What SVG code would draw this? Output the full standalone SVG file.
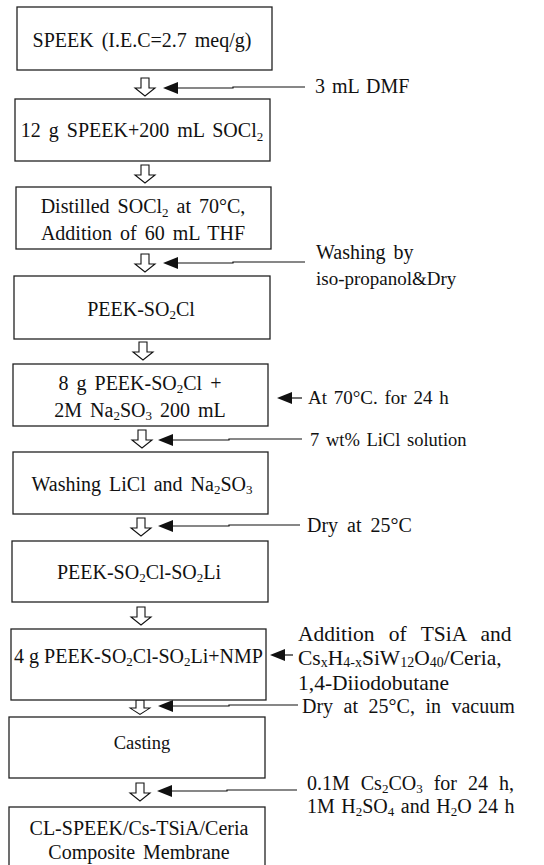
<svg xmlns="http://www.w3.org/2000/svg" xmlns:xlink="http://www.w3.org/1999/xlink" width="544" height="865" viewBox="0 0 544 865">
<style>
  .box { fill: #ffffff; stroke: #222222; stroke-width: 1.3; }
  .t { font-family: "Liberation Serif", "Times New Roman", serif; font-size: 20px; fill: #111111; word-spacing: 3px; }
  .c { text-anchor: middle; }
  .s { font-size: 13px; }
  .ha { fill: #ffffff; stroke: #111111; stroke-width: 1.1; stroke-linejoin: miter; }
  .ln { fill: none; stroke: #111111; stroke-width: 1.2; }
  .ah { fill: #111111; stroke: none; }
  .big { font-size: 21.5px; }
  .bs { font-size: 14px; }
</style>
<defs>
  <path id="harrow" d="M-4,0 H4 V10 H10 L0,18 L-10,10 H-4 Z"/>
  <path id="farrow" d="M0,0 L15,-6 L15,6 Z"/>
</defs>
<rect width="544" height="865" fill="#ffffff"/>

<g id="connectors">
  <use xlink:href="#harrow" class="ha" x="145" y="78"/>
  <use xlink:href="#harrow" class="ha" x="145" y="165"/>
  <use xlink:href="#harrow" class="ha" x="145" y="254"/>
  <use xlink:href="#harrow" class="ha" x="143" y="342"/>
  <use xlink:href="#harrow" class="ha" x="142" y="430"/>
  <use xlink:href="#harrow" class="ha" x="141" y="518"/>
  <use xlink:href="#harrow" class="ha" x="141" y="607"/>
  <use xlink:href="#harrow" class="ha" x="140" y="700" transform="translate(140,700) scale(1,0.8) translate(-140,-700)"/>
  <use xlink:href="#harrow" class="ha" x="140" y="783"/>

  <use xlink:href="#farrow" class="ah" x="163" y="88"/>
  <path class="ln" d="M176,88 H233 V87 H305"/>
  <use xlink:href="#farrow" class="ah" x="163" y="263"/>
  <path class="ln" d="M176,263 H233 V262 H305"/>
  <use xlink:href="#farrow" class="ah" x="277" y="398"/>
  <path class="ln" d="M290,398 H302"/>
  <use xlink:href="#farrow" class="ah" x="158" y="440"/>
  <path class="ln" d="M171,440 H229 V439 H302"/>
  <use xlink:href="#farrow" class="ah" x="158" y="526"/>
  <path class="ln" d="M171,526 H229 V525 H300"/>
  <use xlink:href="#farrow" class="ah" x="270" y="655"/>
  <path class="ln" d="M283,655 H293"/>
  <use xlink:href="#farrow" class="ah" x="158" y="706"/>
  <path class="ln" d="M171,706 H229 V705 H298"/>
  <use xlink:href="#farrow" class="ah" x="157" y="791"/>
  <path class="ln" d="M170,791 H227 V790 H297"/>
</g>

<g id="n1">
  <rect class="box" x="17" y="7" width="255" height="63"/>
  <text class="t c" x="142" y="47">SPEEK (I.E.C=2.7 meq/g)</text>
</g>
<g id="l1"><text class="t" x="315" y="93" style="word-spacing:2px">3 mL DMF</text></g>

<g id="n2">
  <rect class="box" x="15" y="99" width="255" height="62"/>
  <text class="t c" x="142" y="137">12 g SPEEK+200 mL SOCl<tspan class="s" dy="4">2</tspan></text>
</g>

<g id="n3">
  <rect class="box" x="16" y="187" width="255" height="62"/>
  <text class="t c" x="143" y="213">Distilled SOCl<tspan class="s" dy="4">2</tspan><tspan dy="-4"> at 70°C,</tspan></text>
  <text class="t c" x="143" y="240">Addition of 60 mL THF</text>
</g>
<g id="l3">
  <text class="t" x="316" y="259">Washing by</text>
  <text class="t" x="316" y="285" style="font-size:19px">iso-propanol&amp;Dry</text>
</g>

<g id="n4">
  <rect class="box" x="14" y="276" width="256" height="63"/>
  <text class="t c" x="141" y="316">PEEK-SO<tspan class="s" dy="3">2</tspan><tspan dy="-3">Cl</tspan></text>
</g>

<g id="n5">
  <rect class="box" x="13" y="364" width="255" height="62"/>
  <text class="t c" x="140" y="390">8 g PEEK-SO<tspan class="s" dy="3">2</tspan><tspan dy="-3">Cl +</tspan></text>
  <text class="t c" x="140" y="417">2M Na<tspan class="s" dy="3">2</tspan><tspan dy="-3">SO</tspan><tspan class="s" dy="3">3</tspan><tspan dy="-3"> 200 mL</tspan></text>
</g>
<g id="l5"><text class="t" x="308" y="404" style="font-size:19px;word-spacing:2px">At 70°C. for 24 h</text></g>
<g id="l5b"><text class="t" x="310" y="446" style="font-size:18.5px;word-spacing:2px">7 wt% LiCl solution</text></g>

<g id="n6">
  <rect class="box" x="13" y="452" width="255" height="62"/>
  <text class="t c" x="142" y="491">Washing LiCl and Na<tspan class="s" dy="3">2</tspan><tspan dy="-3">SO</tspan><tspan class="s" dy="3">3</tspan></text>
</g>
<g id="l6"><text class="t" x="307" y="532" style="word-spacing:4px">Dry at 25°C</text></g>

<g id="n7">
  <rect class="box" x="12" y="541" width="256" height="61"/>
  <text class="t c" x="139" y="579">PEEK-SO<tspan class="s" dy="3">2</tspan><tspan dy="-3">Cl-SO</tspan><tspan class="s" dy="3">2</tspan><tspan dy="-3">Li</tspan></text>
</g>

<g id="n8">
  <rect class="box" x="11" y="629" width="255" height="71"/>
  <text class="t c" x="138.5" y="663" style="word-spacing:0px">4 g PEEK-SO<tspan class="s" dy="3">2</tspan><tspan dy="-3">Cl-SO</tspan><tspan class="s" dy="3">2</tspan><tspan dy="-3">Li+NMP</tspan></text>
</g>
<g id="l8">
  <text class="t big" x="298" y="641" style="word-spacing:9px">Addition of TSiA and</text>
  <text class="t big" x="298" y="665">Cs<tspan class="bs" dy="2">x</tspan><tspan dy="-2">H</tspan><tspan class="bs" dy="2">4-x</tspan><tspan dy="-2">SiW</tspan><tspan class="bs" dy="2">12</tspan><tspan dy="-2">O</tspan><tspan class="bs" dy="2">40</tspan><tspan dy="-2">/Ceria,</tspan></text>
  <text class="t big" x="298" y="690">1,4-Diiodobutane</text>
</g>
<g id="l8b"><text class="t" x="302" y="713" style="word-spacing:5.5px">Dry at 25°C, in vacuum</text></g>

<g id="n9">
  <rect class="box" x="9" y="717" width="256" height="61"/>
  <text class="t c" x="142" y="749" style="font-size:18.5px">Casting</text>
</g>
<g id="l9">
  <text class="t" x="307" y="790" style="word-spacing:6px">0.1M Cs<tspan class="s" dy="3">2</tspan><tspan dy="-3">CO</tspan><tspan class="s" dy="3">3</tspan><tspan dy="-3"> for 24 h,</tspan></text>
  <text class="t" x="307" y="813" style="word-spacing:1.5px">1M H<tspan class="s" dy="3">2</tspan><tspan dy="-3">SO</tspan><tspan class="s" dy="3">4</tspan><tspan dy="-3"> and H</tspan><tspan class="s" dy="3">2</tspan><tspan dy="-3">O 24 h</tspan></text>
</g>

<g id="n10">
  <rect class="box" x="9" y="807" width="256" height="70"/>
  <text class="t c" x="139" y="835">CL-SPEEK/Cs-TSiA/Ceria</text>
  <text class="t c" x="139" y="859">Composite Membrane</text>
</g>
</svg>
